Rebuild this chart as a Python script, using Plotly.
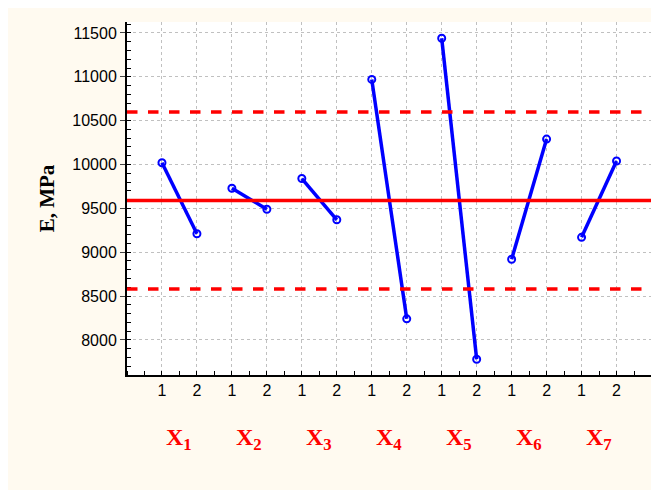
import plotly.graph_objects as go

groups = ["X<sub>1</sub>", "X<sub>2</sub>", "X<sub>3</sub>", "X<sub>4</sub>", "X<sub>5</sub>", "X<sub>6</sub>", "X<sub>7</sub>"]
levels = ["1", "2"]
values = [[10020, 9210], [9730, 9490], [9840, 9370], [10970, 8240],
          [11440, 7780], [8920, 10290], [9170, 10040]]
mean_line = 9590
upper_line = 10600
lower_line = 8580

fig = go.Figure()
ticks, ticktext = [], []
for i, (g, v) in enumerate(zip(groups, values)):
    xs = [2 * i + 1, 2 * i + 2]
    ticks += xs
    ticktext += levels
    fig.add_trace(go.Scatter(
        x=xs, y=v, mode="lines+markers",
        line=dict(color="#0000ff", width=3.5),
        marker=dict(symbol="circle-open", size=7, color="#0000ff", line=dict(width=2)),
        showlegend=False
    ))
    fig.add_annotation(x=2 * i + 1.5, y=-0.23, xref="x", yref="paper", text="<b>" + g + "</b>",
                       showarrow=False, font=dict(family="Liberation Serif", size=24, color="red"))

for y, dash in [(mean_line, "solid"), (upper_line, "dash"), (lower_line, "dash")]:
    fig.add_shape(type="line", xref="paper", x0=0, x1=1, y0=y, y1=y,
                  line=dict(color="red", width=3.5, dash=dash))

fig.update_layout(
    width=659, height=490,
    paper_bgcolor="#fffaf0", plot_bgcolor="white",
    margin=dict(l=119, r=12, t=14, b=123),
    font=dict(family="Liberation Sans", size=16, color="black"),
    xaxis=dict(range=[0, 15.1], tickvals=ticks, ticktext=ticktext, ticks="outside", ticklen=0,
               showgrid=True, gridcolor="#c0c0c0", griddash="dot", zeroline=False, automargin=False,
               showline=True, linecolor="black", linewidth=2,
               minor=dict(dtick=0.5, ticks="inside", ticklen=4, tickcolor="black", showgrid=False)),
    yaxis=dict(range=[7600, 11625], dtick=500, tickformat="d", ticks="outside", ticklen=5,
               showgrid=True, gridcolor="#c0c0c0", griddash="dot", zeroline=False, automargin=False,
               showline=True, linecolor="black", linewidth=2,
               minor=dict(dtick=100, ticks="inside", ticklen=4, tickcolor="black"),
               title=dict(text="<b>E, MPa</b>", standoff=12,
                          font=dict(family="Liberation Serif", size=21))),
)
fig.write_html("out.html")
